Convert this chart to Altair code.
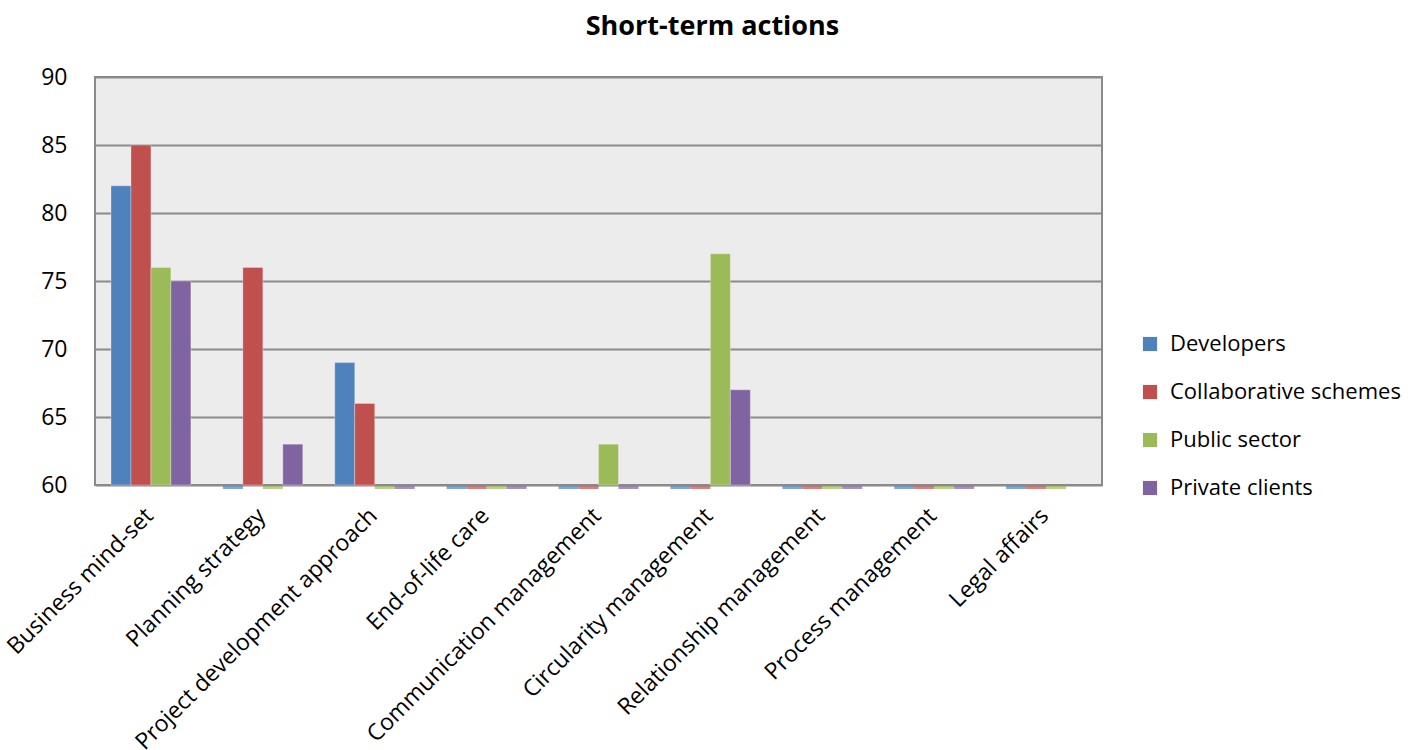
import altair as alt
import pandas as pd

categories = [
    "Business mind-set",
    "Planning strategy",
    "Project development approach",
    "End-of-life care",
    "Communication management",
    "Circularity management",
    "Relationship management",
    "Process management",
    "Legal affairs",
]
series = ["Developers", "Collaborative schemes", "Public sector", "Private clients"]
colors = ["#4F81BD", "#C0504D", "#9BBB59", "#8064A2"]

# values below the axis minimum (60) are drawn by Excel as a thin stub on the axis
developers = [82, 0, 69, 0, 0, 0, 0, 0, 0]
collaborative = [85, 76, 66, 0, 0, 0, 0, 0, 0]
public_sector = [76, 0, 0, 0, 63, 77, 0, 0, 0]
private_clients = [75, 63, 0, 0, 0, 67, 0, 0, None]

y_ticks = [60, 65, 70, 75, 80, 85, 90]

rows = []
for name, vals in zip(series, [developers, collaborative, public_sector, private_clients]):
    for cat, v in zip(categories, vals):
        if v is not None:
            rows.append({"category": cat, "series": name, "value": v})
df = pd.DataFrame(rows)

FONT = "Open Sans"
FS = 23

x_enc = alt.X(
    "category:N",
    sort=categories,
    scale=alt.Scale(paddingInner=0.286, paddingOuter=0.143),
    axis=alt.Axis(
        title=None,
        labelAngle=-45,
        labelFontSize=FS,
        labelFont=FONT,
        labelColor="#000000",
        labelLimit=0,
        ticks=False,
        domain=False,
        labelPadding=19,
        labelOffset=-9,
    ),
)
xoff = alt.XOffset("series:N", sort=series, scale=alt.Scale(paddingInner=0, paddingOuter=0))
color_enc = alt.Color(
    "series:N",
    sort=series,
    scale=alt.Scale(domain=series, range=colors),
    legend=alt.Legend(
        title=None,
        orient="none",
        legendX=1044,
        legendY=256,
        symbolType="square",
        symbolSize=200,
        symbolStrokeWidth=0,
        labelFontSize=22,
        labelFont=FONT,
        labelColor="#000000",
        labelLimit=0,
        rowPadding=26,
        labelOffset=9,
    ),
)
y_scale = alt.Scale(domain=[60, 90], nice=False, zero=False, clamp=True)
y_axis = alt.Axis(
    title=None,
    values=y_ticks,
    labelFontSize=FS,
    labelFont=FONT,
    labelColor="#000000",
    ticks=False,
    domain=False,
    grid=True,
    gridColor="#8a8a8a",
    gridWidth=2,
    labelPadding=28,
    minExtent=80,
    maxExtent=80,
)

base = alt.Chart(df)

bars = base.transform_filter(alt.datum.value >= 60).mark_bar(
    stroke="#ffffff", strokeWidth=0.5, strokeOpacity=0.6
).encode(
    x=x_enc,
    xOffset=xoff,
    y=alt.Y("value:Q", scale=y_scale, axis=y_axis),
    y2=alt.datum(60),
    color=color_enc,
)

stubs = base.transform_filter(alt.datum.value < 60).mark_tick(
    thickness=3, size=20, yOffset=2.5
).encode(
    x=x_enc,
    xOffset=xoff,
    y=alt.Y("value:Q", scale=y_scale, axis=y_axis),
    color=color_enc,
)

chart = (
    alt.layer(bars, stubs)
    .properties(
        width=1007,
        height=408,
        background="#ffffff",
        padding={"left": 3, "top": 13, "right": 5, "bottom": 5},
        title=alt.TitleParams(
            "Short-term actions",
            font=FONT,
            fontSize=27,
            fontWeight="bold",
            color="#000000",
            anchor="middle",
            dx=114,
            offset=25,
        ),
    )
    .configure_view(fill="#ececec", stroke="#8a8a8a", strokeWidth=2)
)

chart.save("out.html", embed_options={"renderer": "svg", "actions": False})
